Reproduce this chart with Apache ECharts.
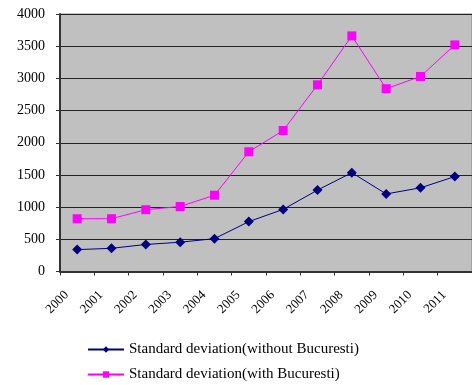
<!DOCTYPE html>
<html><head><meta charset="utf-8">
<script src="https://cdn.jsdelivr.net/npm/echarts@6/dist/echarts.min.js"></script>
<style>html,body{margin:0;padding:0;background:#fff}#c{width:472px;height:385px}</style>
</head><body><div id="c"></div>
<script>
var years = ['2000','2001','2002','2003','2004','2005','2006','2007','2008','2009','2010','2011'];
var withoutBuc = [340, 360, 420, 455, 510, 775, 965, 1265, 1535, 1205, 1300, 1475];
var withBuc = [820, 820, 960, 1010, 1185, 1860, 2190, 2900, 3660, 2840, 3030, 3520];
var nameWithout = 'Standard deviation(without Bucuresti)';
var nameWith = 'Standard deviation(with Bucuresti)';
var font = 'Liberation Serif';
var chart = echarts.init(document.getElementById('c'));
var legendBase = {
  orient: 'horizontal', left: 87, padding: 0, itemWidth: 36, itemHeight: 8, itemGap: 5,
  textStyle: {fontFamily: font, fontSize: 15, color: '#000'}
};
chart.setOption({
  animation: false,
  grid: {left: 60, top: 14, width: 415, height: 257.5, backgroundColor: '#C0C0C0', show: true, borderWidth: 1, borderColor: '#888'},
  xAxis: {
    type: 'category', data: years, boundaryGap: true,
    axisLine: {lineStyle: {color: '#333', width: 2}},
    axisTick: {show: true, length: 4, lineStyle: {color: '#333'}},
    axisLabel: {rotate: 45, fontFamily: font, fontSize: 13, color: '#000', margin: 11, padding: [0, 15, 0, 0]},
    splitLine: {show: false}
  },
  yAxis: {
    type: 'value', min: 0, max: 4000, interval: 500,
    axisLine: {show: true, lineStyle: {color: '#333', width: 2}},
    axisTick: {show: true, length: 4, lineStyle: {color: '#333'}},
    axisLabel: {fontFamily: font, fontSize: 14, color: '#000', margin: 15, formatter: function (v) { return String(v); }},
    splitLine: {lineStyle: {color: '#222', width: 1}}
  },
  legend: [
    Object.assign({}, legendBase, {top: 342, data: [nameWithout]}),
    Object.assign({}, legendBase, {top: 367, data: [nameWith]})
  ],
  series: [
    {name: nameWithout, type: 'line', data: withoutBuc, symbol: 'diamond', symbolSize: 10,
     itemStyle: {color: '#000080'}, lineStyle: {color: '#000080', width: 1}},
    {name: nameWith, type: 'line', data: withBuc, symbol: 'rect', symbolSize: 9,
     itemStyle: {color: '#FF00FF'}, lineStyle: {color: '#FF00FF', width: 1}}
  ]
});
</script></body></html>
